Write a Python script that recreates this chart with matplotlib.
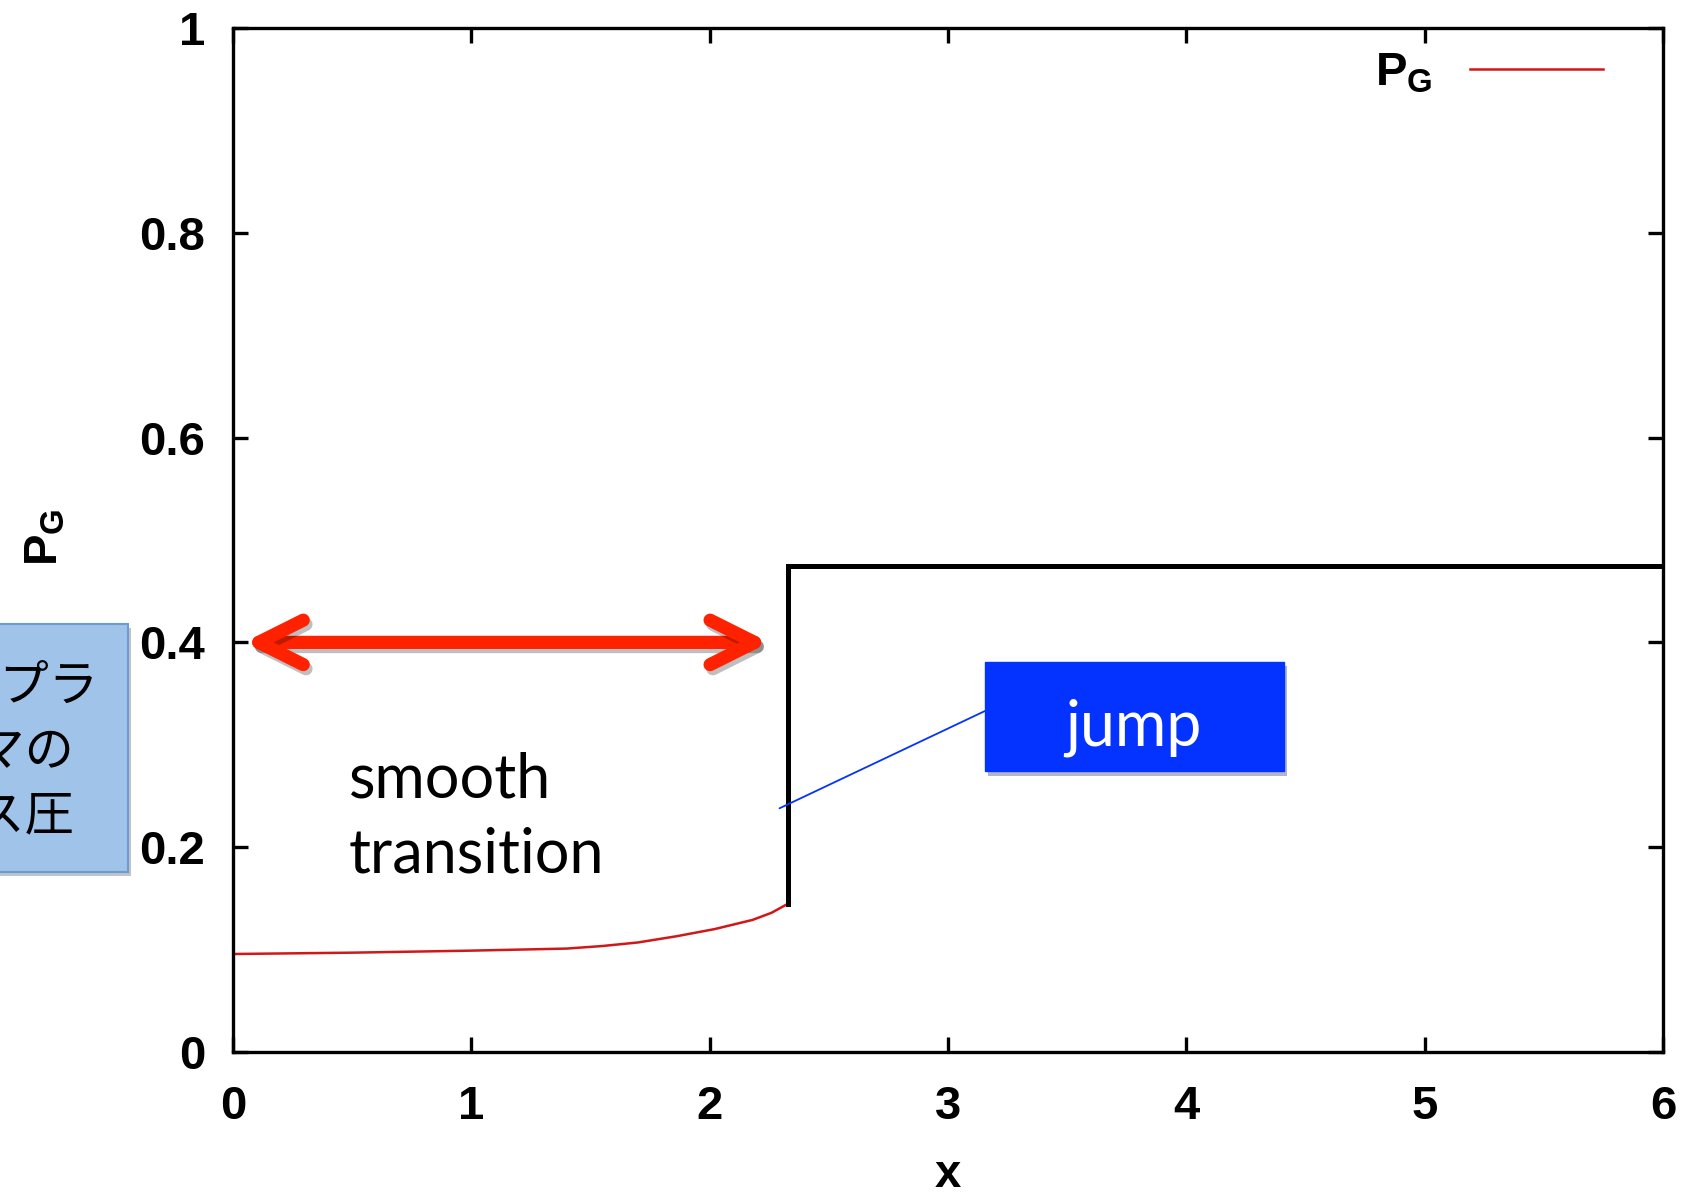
import matplotlib
matplotlib.use("Agg")
import matplotlib.pyplot as plt
import matplotlib.patheffects as pe
from matplotlib.patches import Rectangle, FancyArrowPatch

# values
x_smooth = [0.0, 0.5, 1.0, 1.4, 1.55, 1.7, 1.86, 2.02, 2.18, 2.26, 2.33]
pg_smooth = [0.0957, 0.097, 0.099, 0.101, 0.1035, 0.107, 0.113, 0.120, 0.129, 0.136, 0.145]
x_step = [2.33, 2.33, 6.0]
pg_step = [0.145, 0.475, 0.475]

x_ticks = [0, 1, 2, 3, 4, 5, 6]
y_ticks = [0, 0.2, 0.4, 0.6, 0.8, 1.0]
y_tick_labels = ["0", "0.2", "0.4", "0.6", "0.8", "1"]

plt.rcParams['font.family'] = ['Liberation Sans', 'DejaVu Sans']
plt.rcParams['mathtext.fontset'] = 'custom'
plt.rcParams['mathtext.rm'] = 'Liberation Sans'
plt.rcParams['mathtext.bf'] = 'Liberation Sans:bold'

label_pg = r'$\mathbf{P}_\mathbf{G}$'

fig = plt.figure(figsize=(16.95, 11.96), dpi=100)
ax = fig.add_axes([0.1375, 0.1204, 0.8436, 0.8562])

ax.plot(x_smooth, pg_smooth, color='#d01818', lw=1.8, label=label_pg)
ax.plot(x_step, pg_step, color='black', lw=3.6, solid_joinstyle='miter')

ax.set_xlim(0, 6)
ax.set_ylim(0, 1)
ax.set_xticks(x_ticks)
ax.set_xticklabels([str(t) for t in x_ticks])
ax.set_yticks(y_ticks)
ax.set_yticklabels(y_tick_labels)
ax.tick_params(direction='in', length=10.8, width=2.4, top=True, right=True,
               labelsize=34, pad=20)
ax.tick_params(axis='x', pad=24)
for lbl in ax.get_xticklabels() + ax.get_yticklabels():
    lbl.set_fontweight('bold')
for sp in ax.spines.values():
    sp.set_linewidth(2.4)

ax.set_xlabel('x', fontsize=34, fontweight='bold')
ax.xaxis.set_label_coords(0.5, -0.099)
ax.set_ylabel(label_pg, fontsize=34)
ax.yaxis.set_label_coords(-0.116, 0.503)

leg = ax.legend(loc='upper right', bbox_to_anchor=(0.971, 0.995), frameon=False,
                markerfirst=False, handlelength=2.8, fontsize=34, borderaxespad=0)

# red double arrow
arrow = FancyArrowPatch(posA=(0.046, 0.4), posB=(2.25, 0.4),
                        arrowstyle='<->,head_length=3.2,head_width=1.6',
                        mutation_scale=10, lw=9.5, color='#ff2200',
                        capstyle='round', joinstyle='round', shrinkA=0, shrinkB=0,
                        path_effects=[pe.SimpleLineShadow(offset=(2, -3), alpha=0.25),
                                      pe.Normal()])
ax.add_patch(arrow)

ax.text(0.485, 0.175, 'smooth\ntransition', fontsize=44, family=['Lato', 'DejaVu Sans'],
        ha='left', va='baseline', linespacing=1.4)

# "jump" callout
jump_box = Rectangle((3.155, 0.274), 1.255, 0.107, facecolor='#0433ff', edgecolor='#0433ff',
                     path_effects=[pe.SimplePatchShadow(offset=(2, -3), alpha=0.3), pe.Normal()])
ax.add_patch(jump_box)
ax.text(3.78, 0.317, 'jump', color='white', fontsize=45, family=['Lato', 'DejaVu Sans'],
        ha='center', va='center')
ax.annotate('', xy=(2.293, 0.238), xytext=(3.155, 0.333),
            arrowprops=dict(arrowstyle='-', color='#0433ff', lw=1.3, shrinkA=0, shrinkB=0))

# Japanese box, cut off at the left edge of the figure as in the reference
jp_box = Rectangle((-0.0755, 0.2709), 0.151, 0.2074, transform=fig.transFigure,
                   facecolor='#9fc3e9', edgecolor='#6f9bd3', lw=1.5,
                   path_effects=[pe.SimplePatchShadow(offset=(2, -3), alpha=0.3), pe.Normal()])
fig.add_artist(jp_box)
fig.text(0.0, 0.371, '背景プラ\nズマの\nガス圧', fontsize=35.5,
         family=['Noto Sans CJK JP', 'DejaVu Sans'], ha='center', va='center',
         linespacing=1.33)

fig.savefig('out.png', dpi=100)
